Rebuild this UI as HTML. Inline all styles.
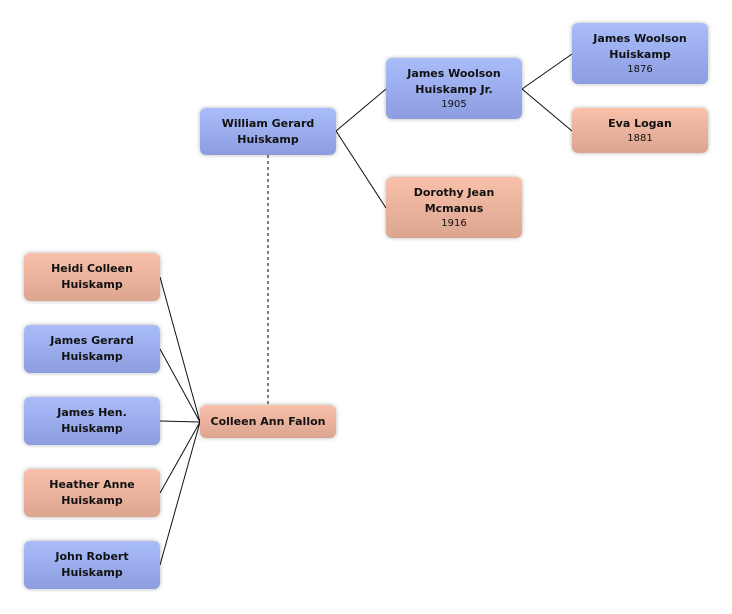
<!DOCTYPE html>
<html><head><style>
body{margin:0;width:732px;height:614px;background:#fff;position:relative;overflow:hidden;font-family:"DejaVu Sans","Liberation Sans",sans-serif}
.b{position:absolute;width:136px;border-radius:6px;box-shadow:0 0 4px rgba(0,0,0,.3);display:flex;flex-direction:column;justify-content:center;align-items:center;text-align:center;color:#111;font-size:11px;font-weight:bold;line-height:16px;box-sizing:border-box}
.m{background:linear-gradient(#aabdfa,#8c9de0)}
.f{background:linear-gradient(#f9c1aa,#dca590)}
.y{font-weight:normal;font-size:10px;line-height:13px}
svg{position:absolute;left:0;top:0}
</style></head><body>
<svg width="732" height="614">
<g stroke="#111" stroke-width="1" fill="none">
<line x1="336" y1="131" x2="386" y2="89"/>
<line x1="336" y1="131" x2="386" y2="208"/>
<line x1="522" y1="89" x2="572" y2="54"/>
<line x1="522" y1="89" x2="572" y2="131"/>
<line x1="200" y1="422" x2="160" y2="277"/>
<line x1="200" y1="422" x2="160" y2="349"/>
<line x1="200" y1="422" x2="160" y2="421"/>
<line x1="200" y1="422" x2="160" y2="493"/>
<line x1="200" y1="422" x2="160" y2="565"/>
<line x1="268" y1="155" x2="268" y2="405" stroke="#555" stroke-width="1.5" stroke-dasharray="3,3"/>
</g></svg>
<div class="b m" style="left:200px;top:108px;height:47px">William Gerard<br>Huiskamp</div>
<div class="b m" style="left:386px;top:58px;height:61px">James Woolson<br>Huiskamp Jr.<span class="y">1905</span></div>
<div class="b f" style="left:386px;top:177px;height:61px">Dorothy Jean<br>Mcmanus<span class="y">1916</span></div>
<div class="b m" style="left:572px;top:23px;height:61px">James Woolson<br>Huiskamp<span class="y">1876</span></div>
<div class="b f" style="left:572px;top:108px;height:45px">Eva Logan<span class="y">1881</span></div>
<div class="b f" style="left:24px;top:253px;height:48px">Heidi Colleen<br>Huiskamp</div>
<div class="b m" style="left:24px;top:325px;height:48px">James Gerard<br>Huiskamp</div>
<div class="b m" style="left:24px;top:397px;height:48px">James Hen.<br>Huiskamp</div>
<div class="b f" style="left:24px;top:469px;height:48px">Heather Anne<br>Huiskamp</div>
<div class="b m" style="left:24px;top:541px;height:48px">John Robert<br>Huiskamp</div>
<div class="b f" style="left:200px;top:405px;height:33px">Colleen Ann Fallon</div>
</body></html>
